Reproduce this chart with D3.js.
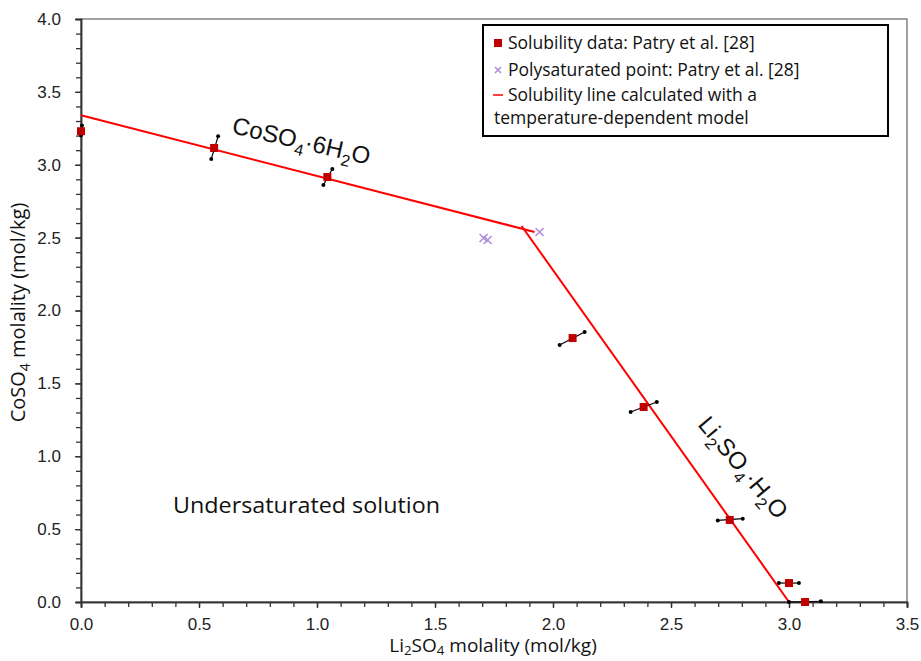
<!DOCTYPE html>
<html>
<head>
<meta charset="utf-8">
<script src="https://cdn.jsdelivr.net/npm/d3@7"></script>
<style>
  body { margin: 0; background: #fff; }
  svg { display: block; }
</style>
</head>
<body>
<svg id="chart" width="921" height="661"></svg>
<script>
// solubility data (Patry et al.) - Li2SO4 / CoSO4 molality
var dataX = [0.0, 0.564, 1.044, 2.083, 2.384, 2.749, 3.000, 3.068];
var dataY = [3.23, 3.115, 2.916, 1.811, 1.338, 0.563, 0.130, 0.000];
// error bar ends (low and high corner of each segment)
var errLoX = [0.000, 0.552, 1.027, 2.028, 2.329, 2.698, 2.957, 3.000];
var errLoY = [3.20, 3.040, 2.861, 1.763, 1.304, 0.560, 0.130, 0.000];
var errHiX = [0.004, 0.581, 1.065, 2.134, 2.440, 2.804, 3.042, 3.135];
var errHiY = [3.27, 3.195, 2.971, 1.852, 1.372, 0.572, 0.130, 0.005];
// polysaturated points
var polyX = [1.706, 1.723, 1.943];
var polyY = [2.497, 2.484, 2.539];
// model lines
var lineCoX = [0.0, 1.922];
var lineCoY = [3.34, 2.539];
var lineLiX = [1.867, 3.0];
var lineLiY = [2.58, 0.0];
// ticks
var xTicks = [0, 0.5, 1, 1.5, 2, 2.5, 3, 3.5];
var yTicks = [0, 0.5, 1, 1.5, 2, 2.5, 3, 3.5, 4];

var svg = d3.select('#chart'),
    pL = 81, pR = 907, pT = 19, pB = 602;

var x = d3.scaleLinear().domain([0, 3.5]).range([pL, pR]);
var y = d3.scaleLinear().domain([0, 4]).range([pB, pT]);

var axisFont = "'Liberation Sans', Arial, sans-serif";
var textFont = "'Open Sans', 'Liberation Sans', sans-serif";

// plot frame
svg.append("rect")
   .attr("x", pL).attr("y", pT)
   .attr("width", pR - pL).attr("height", pB - pT)
   .attr("fill", "none").attr("stroke", "#444").attr("stroke-width", 1);

// minor ticks every 0.1
var xMinor = d3.range(0, 36).map(function(i) { return i / 10; });
var yMinor = d3.range(0, 41).map(function(i) { return i / 10; });

var gx = svg.append("g").attr("transform", "translate(0," + pB + ")");
gx.call(d3.axisBottom(x).tickValues(xMinor).tickSize(5).tickFormat(""));
gx.append("g").call(d3.axisBottom(x).tickValues(xTicks).tickSize(6).tickPadding(10)
   .tickFormat(d3.format(".1f")));
gx.selectAll("path.domain").attr("stroke", "#333").attr("stroke-width", 1.5);
gx.selectAll("line").attr("stroke", "#333").attr("stroke-width", 1.3);
gx.selectAll("text").attr("font-family", axisFont).attr("font-size", "17px").attr("fill", "#222");

var gy = svg.append("g").attr("transform", "translate(" + pL + ",0)");
gy.call(d3.axisLeft(y).tickValues(yMinor).tickSize(5).tickFormat(""));
gy.append("g").call(d3.axisLeft(y).tickValues(yTicks).tickSize(6).tickPadding(14)
   .tickFormat(d3.format(".1f")));
gy.selectAll("path.domain").attr("stroke", "#333").attr("stroke-width", 1.5);
gy.selectAll("line").attr("stroke", "#333").attr("stroke-width", 1.3);
gy.selectAll("text").attr("font-family", axisFont).attr("font-size", "17px").attr("fill", "#222");

// model lines
var line = d3.line().x(function(d) { return x(d[0]); }).y(function(d) { return y(d[1]); });
[[lineCoX, lineCoY], [lineLiX, lineLiY]].forEach(function(l) {
    svg.append("path")
       .attr("d", line(d3.zip(l[0], l[1])))
       .attr("fill", "none").attr("stroke", "#ff0000").attr("stroke-width", 2);
});

// error bars
var idx = d3.range(dataX.length);
svg.selectAll(".err").data(idx).enter().append("line")
   .attr("x1", function(i) { return x(errLoX[i]); })
   .attr("y1", function(i) { return y(errLoY[i]); })
   .attr("x2", function(i) { return x(errHiX[i]); })
   .attr("y2", function(i) { return y(errHiY[i]); })
   .attr("stroke", "#000").attr("stroke-width", 1.2);
idx.forEach(function(i) {
    [[errLoX[i], errLoY[i]], [errHiX[i], errHiY[i]]].forEach(function(p) {
        svg.append("circle").attr("cx", x(p[0])).attr("cy", y(p[1])).attr("r", 2).attr("fill", "#000");
    });
});

// data squares
var sq = 8;
svg.selectAll(".sq").data(idx).enter().append("rect")
   .attr("x", function(i) { return x(dataX[i]) - sq / 2; })
   .attr("y", function(i) { return y(dataY[i]) - sq / 2; })
   .attr("width", sq).attr("height", sq)
   .attr("fill", "#c00000");

// polysaturated crosses
var cr = 4;
polyX.forEach(function(px, i) {
    var cx = x(px), cy = y(polyY[i]);
    svg.append("path")
       .attr("d", "M" + (cx - cr) + "," + (cy - cr) + "L" + (cx + cr) + "," + (cy + cr) +
                  "M" + (cx - cr) + "," + (cy + cr) + "L" + (cx + cr) + "," + (cy - cr))
       .attr("stroke", "#b18ad8").attr("stroke-width", 1.5).attr("fill", "none");
});

// phase annotations
function chem(g, parts, size) {
    var t = g.append("text").attr("font-family", axisFont).attr("font-size", size + "px").attr("fill", "#111");
    parts.forEach(function(p) {
        var s = t.append("tspan").text(p[0]);
        if (p[1]) s.attr("font-size", (size * 0.68) + "px").attr("dy", size * 0.28);
        else if (p[2]) s.attr("dy", -size * 0.28);
    });
    return t;
}
chem(svg.append("g").attr("transform", "translate(231,133) rotate(13)"),
     [["CoSO"], ["4", 1], ["·6H", 0, 1], ["2", 1], ["O", 0, 1]], 24);
chem(svg.append("g").attr("transform", "translate(697,425) rotate(50)"),
     [["Li"], ["2", 1], ["SO", 0, 1], ["4", 1], ["·H", 0, 1], ["2", 1], ["O", 0, 1]], 24);

svg.append("text").attr("x", 173).attr("y", 513)
   .attr("font-family", textFont).attr("font-size", "21px").attr("fill", "#111")
   .attr("textLength", 267).attr("lengthAdjust", "spacingAndGlyphs")
   .text("Undersaturated solution");

// axis titles
function sub(t, parts, size, shift) {
    parts.forEach(function(p) {
        var s = t.append("tspan").text(p[0]);
        if (p[1]) s.attr("font-size", (size * 0.7) + "px").attr("dy", size * shift);
        else if (p[2]) s.attr("dy", -size * shift);
    });
}
var xt = svg.append("text").attr("x", 493).attr("y", 652)
   .attr("text-anchor", "middle").attr("font-family", textFont).attr("font-size", "19px").attr("fill", "#111");
sub(xt, [["Li"], ["2", 1], ["SO", 0, 1], ["4", 1], [" molality (mol/kg)", 0, 1]], 19, 0.18);

var yt = svg.append("text").attr("transform", "translate(25," + ((pT + pB) / 2 + 2) + ") rotate(-90)")
   .attr("text-anchor", "middle").attr("font-family", textFont).attr("font-size", "20px").attr("fill", "#111");
sub(yt, [["CoSO"], ["4", 1], [" molality (mol/kg)", 0, 1]], 20, 0.25);

// legend
var lg = svg.append("g");
lg.append("rect").attr("x", 483).attr("y", 25).attr("width", 405).attr("height", 111)
  .attr("fill", "#fff").attr("stroke", "#000").attr("stroke-width", 2);
var legendRows = [
    {t: "Solubility data: Patry et al. [28]", y: 43, k: "sq"},
    {t: "Polysaturated point: Patry et al. [28]", y: 70, k: "x"},
    {t: "Solubility line calculated with a", y: 95, k: "line"},
    {t: "temperature-dependent  model", y: 118, k: null}
];
legendRows.forEach(function(r) {
    if (r.k == "sq") lg.append("rect").attr("x", 494).attr("y", r.y - 4).attr("width", 8).attr("height", 8).attr("fill", "#c00000");
    if (r.k == "x") lg.append("path")
        .attr("d", "M495," + (r.y - 3) + "L501," + (r.y + 3) + "M495," + (r.y + 3) + "L501," + (r.y - 3))
        .attr("stroke", "#b18ad8").attr("stroke-width", 1.5);
    if (r.k == "line") lg.append("line").attr("x1", 493).attr("x2", 503).attr("y1", r.y).attr("y2", r.y)
        .attr("stroke", "#ff0000").attr("stroke-width", 1.5);
    lg.append("text").attr("x", r.k == null ? 494 : 508).attr("y", r.y).attr("dy", "0.35em")
      .attr("font-family", textFont).attr("font-size", "17.5px").attr("fill", "#111").text(r.t);
});
</script>
</body>
</html>
